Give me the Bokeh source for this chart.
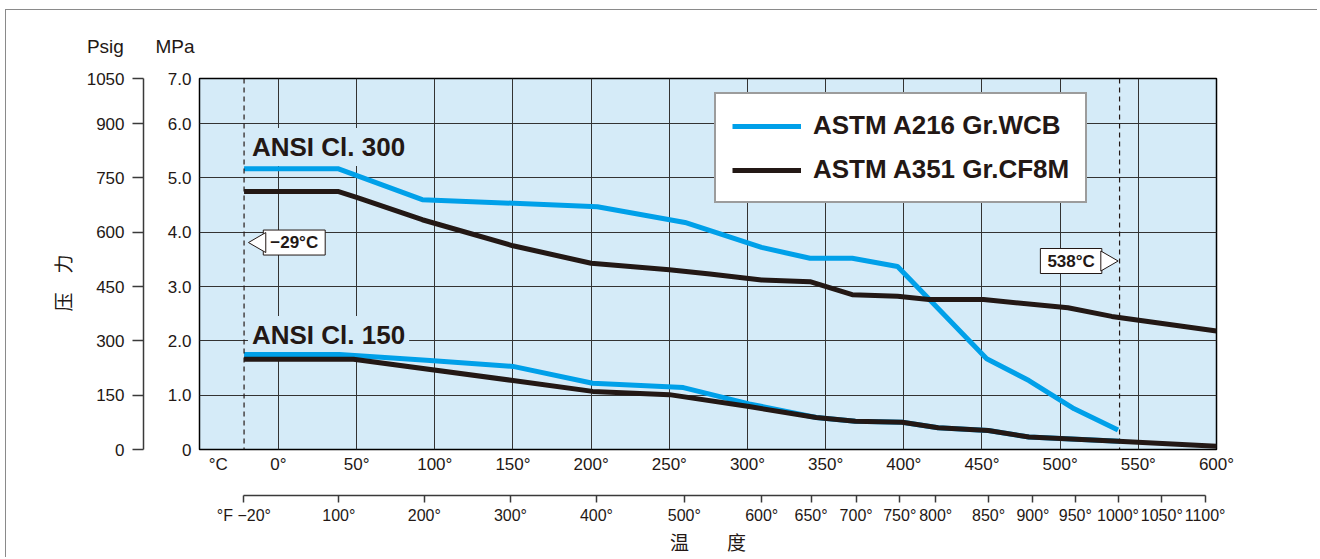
import math
from bokeh.plotting import figure
from bokeh.models import (LinearAxis, FixedTicker, Range1d, Legend, LegendItem,
                          Span, Title)
from bokeh.core.properties import value
from bokeh.embed import file_html
from bokeh.resources import INLINE

# ---------------- data (temperature in deg C as placed on the chart, pressure in MPa) ----
wcb300_t = [-22, 38, 92, 204, 260, 309, 340, 367, 396, 453, 480, 509, 537]
wcb300_p = [5.17, 5.17, 4.60, 4.47, 4.18, 3.72, 3.52, 3.52, 3.37, 1.67, 1.27, 0.75, 0.36]

cf8m300_t = [-22, 38, 50, 92, 150, 200, 250, 276, 309, 340, 367, 396, 416, 451, 505, 533, 600]
cf8m300_p = [4.75, 4.75, 4.64, 4.23, 3.75, 3.43, 3.31, 3.23, 3.12, 3.09, 2.85, 2.82, 2.76, 2.76, 2.61, 2.45, 2.18]

wcb150_t = [-22, 39, 97, 150, 201, 259, 301, 344, 369, 399, 422, 454, 480, 538]
wcb150_p = [1.75, 1.75, 1.64, 1.53, 1.22, 1.14, 0.84, 0.59, 0.52, 0.50, 0.40, 0.35, 0.23, 0.15]

cf8m150_t = [-22, 48, 150, 201, 250, 301, 344, 369, 399, 422, 454, 480, 537, 600]
cf8m150_p = [1.66, 1.66, 1.27, 1.07, 1.01, 0.79, 0.59, 0.52, 0.50, 0.40, 0.35, 0.23, 0.15, 0.06]

series_names = ["ASTM A216 Gr.WCB", "ASTM A351 Gr.CF8M"]
class_labels = ["ANSI Cl. 300", "ANSI Cl. 150"]
class_label_x = [-19.5, -19.5]
class_label_y = [5.57, 2.11]

# temperature limits (dashed lines) and their callouts
limit_pos = [-22, 538]
limit_text = ["\u221229\u00b0C", "538\u00b0C"]
callout_x = [10.1, 507.0]
callout_y = [3.81, 3.47]
arrow_x = [-11.8, 529.7]
arrow_angle = [math.pi / 2, -math.pi / 2]

# axes
mpa_ticks = [0, 1, 2, 3, 4, 5, 6, 6.83]
mpa_labels = ["0", "1.0", "2.0", "3.0", "4.0", "5.0", "6.0", "7.0"]
psig_labels = ["0", "150", "300", "450", "600", "750", "900", "1050"]
unit_headers = ["Psig", "MPa"]

c_ticks = [-38.5, 0, 50, 100, 150, 200, 250, 300, 350, 400, 450, 500, 550, 600]
c_labels = ["\u00b0C", "0\u00b0", "50\u00b0", "100\u00b0", "150\u00b0", "200\u00b0", "250\u00b0",
            "300\u00b0", "350\u00b0", "400\u00b0", "450\u00b0", "500\u00b0", "550\u00b0", "600\u00b0"]
c_grid = [0, 50, 100, 150, 200, 250, 300, 350, 400, 450, 500, 550]
y_grid = [1, 2, 3, 4, 5, 6]

# Fahrenheit scale: tick positions (deg C on the chart) and labels
f_pos = [-22.1, 38.6, 93.3, 148.4, 203.4, 259.6, 309.1, 340.7, 369.5, 397.4, 420.4,
         454.2, 482.6, 509.7, 537.0, 565.0, 592.7]
f_labels = ["\u00b0F \u221220\u00b0", "100\u00b0", "200\u00b0", "300\u00b0", "400\u00b0", "500\u00b0",
            "600\u00b0", "650\u00b0", "700\u00b0", "750\u00b0", "800\u00b0", "850\u00b0", "900\u00b0",
            "950\u00b0", "1000\u00b0", "1050\u00b0", "1100\u00b0"]

FONT = "Liberation Sans"
CJK = "Noto Sans CJK SC"
INK = "#231815"
BLUE = "#00a0e9"
BG = "#d5ebf8"

p = figure(width=1312, height=548, output_backend="svg", toolbar_location=None,
           x_range=Range1d(-50.5, 600), y_range=Range1d(0, 6.83),
           min_border_left=193, min_border_right=102, min_border_top=68, min_border_bottom=109,
           styles={"margin-left": "5px", "margin-top": "9px",
                   "border-top": "1px solid #8a8a8a", "border-left": "1px solid #8a8a8a"})
p.background_fill_color = BG
p.border_fill_color = "white"
p.outline_line_color = "black"
p.outline_line_width = 1.5

p.xgrid.ticker = FixedTicker(ticks=c_grid)
p.ygrid.ticker = FixedTicker(ticks=y_grid)
for g in (p.xgrid, p.ygrid):
    g.grid_line_color = "#333333"
    g.grid_line_width = 1

# MPa axis (next to frame)
ya = p.yaxis[0]
ya.ticker = FixedTicker(ticks=mpa_ticks)
ya.major_label_overrides = dict(zip(mpa_ticks, mpa_labels))
ya.major_tick_out = 0
ya.major_tick_in = 0
ya.minor_tick_out = 0
ya.minor_tick_in = 0
ya.axis_line_color = None
ya.major_label_standoff = 8
ya.major_label_text_font = FONT
ya.major_label_text_font_size = "17px"
ya.major_label_text_color = INK
ya.axis_label = " "
ya.axis_label_text_font_size = "12px"
ya.axis_label_standoff = 4

# Psig axis
psig = LinearAxis(ticker=FixedTicker(ticks=mpa_ticks),
                  major_label_overrides=dict(zip(mpa_ticks, psig_labels)),
                  major_tick_out=11, major_tick_in=0, minor_tick_out=0, minor_tick_in=0,
                  major_label_standoff=8, axis_line_color="#3a3a3a", axis_line_width=1.5,
                  major_tick_line_color="#3a3a3a", major_tick_line_width=1.5,
                  major_label_text_font=FONT, major_label_text_font_size="17px",
                  major_label_text_color=INK,
                  axis_label="\u538b\u3000\u529b\u3000\u3000", axis_label_text_font=CJK,
                  axis_label_text_font_size="19px", axis_label_text_font_style="normal",
                  axis_label_text_color=INK, axis_label_standoff=8)
p.add_layout(psig, "left")

# deg C axis (next to frame)
xa = p.xaxis[0]
xa.ticker = FixedTicker(ticks=c_ticks)
xa.major_label_overrides = dict(zip(c_ticks, c_labels))
xa.major_tick_out = 0
xa.major_tick_in = 0
xa.minor_tick_out = 0
xa.minor_tick_in = 0
xa.axis_line_color = None
xa.major_label_standoff = 5
xa.major_label_text_font = FONT
xa.major_label_text_font_size = "17px"
xa.major_label_text_color = INK
xa.axis_label = " "
xa.axis_label_text_font_size = "10px"
xa.axis_label_standoff = 5

# deg F axis
fax = LinearAxis(ticker=FixedTicker(ticks=f_pos),
                 major_label_overrides=dict(zip(f_pos, f_labels)),
                 bounds=(f_pos[0], f_pos[-1]),
                 major_tick_out=7, major_tick_in=0, minor_tick_out=0, minor_tick_in=0,
                 major_label_standoff=4, axis_line_color="#3a3a3a", axis_line_width=1.5,
                 major_tick_line_color="#3a3a3a", major_tick_line_width=1.5,
                 major_label_text_font=FONT, major_label_text_font_size="16px",
                 major_label_text_color=INK,
                 axis_label="\u6e29\u3000\u3000\u5ea6", axis_label_text_font=CJK,
                 axis_label_text_font_size="19px", axis_label_text_font_style="normal",
                 axis_label_text_color=INK, axis_label_standoff=1)
p.add_layout(fax, "below")

# unit headers above the two y scales
p.add_layout(Title(text=unit_headers[0] + "\u00a0" * 6 + unit_headers[1], align="left",
                   offset=-112.6, standoff=43,
                   text_font=FONT, text_font_size="19px", text_font_style="normal",
                   text_color=INK), "above")

# class labels with background (drawn before the curves)
p.text(x=class_label_x, y=class_label_y, text=class_labels,
       text_font=value(FONT), text_font_style="bold", text_font_size="26px",
       text_color=INK, text_baseline="alphabetic", text_align="left",
       background_fill_color=BG, padding=4)

# dashed temperature limits
for loc in limit_pos:
    p.add_layout(Span(location=loc, dimension="height", line_color=INK,
                      line_width=1.2, line_dash="5 4"))

# curves
r_w150 = p.line(wcb150_t, wcb150_p, line_color=BLUE, line_width=5)
r_w300 = p.line(wcb300_t, wcb300_p, line_color=BLUE, line_width=5)
r_c300 = p.line(cf8m300_t, cf8m300_p, line_color=INK, line_width=5)
r_c150 = p.line(cf8m150_t, cf8m150_p, line_color=INK, line_width=5)

# callouts
p.text(x=callout_x, y=callout_y, text=limit_text,
       text_font=value(FONT), text_font_style="bold", text_font_size="17px",
       text_color=INK, text_baseline="middle", text_align="center",
       background_fill_color="white", border_line_color=INK, border_line_width=1,
       padding=dict(left=7, right=7, top=3, bottom=3))
p.scatter(x=arrow_x, y=callout_y, marker="triangle", size=20, angle=arrow_angle,
          fill_color="white", line_color=INK, line_width=1)

legend = Legend(items=[LegendItem(label=series_names[0], renderers=[r_w300]),
                       LegendItem(label=series_names[1], renderers=[r_c300])],
                location=(515, 246), orientation="vertical", glyph_width=69, glyph_height=30,
                label_height=30, label_standoff=12, spacing=13, padding=16, margin=0,
                label_text_font=FONT, label_text_font_style="bold",
                label_text_font_size="26px", label_text_color=INK,
                border_line_color="#3a3a3a", border_line_width=2,
                background_fill_color="white", background_fill_alpha=1)
p.add_layout(legend)

open("out.html", "w").write(file_html(p, INLINE))
